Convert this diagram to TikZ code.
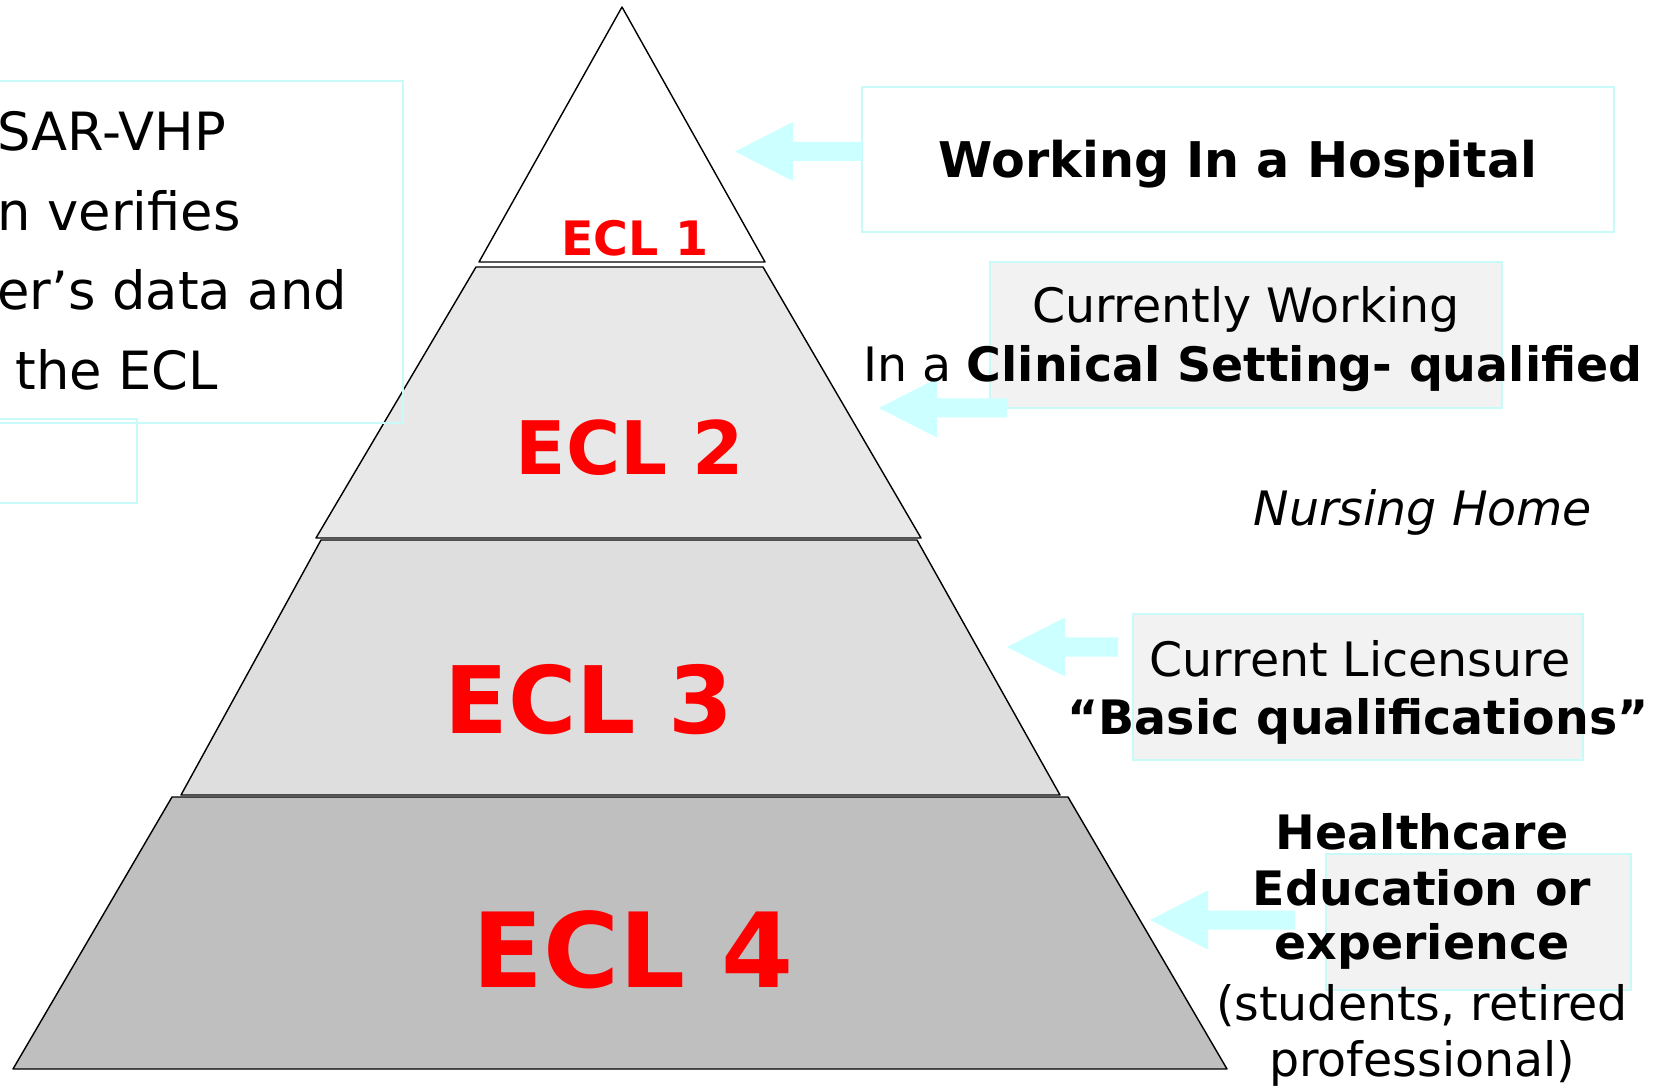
\documentclass[tikz,border=0pt]{standalone}
\usepackage{fontspec}
\setmainfont{DejaVu Sans}
\definecolor{eclred}{HTML}{FF0000}
\definecolor{boxcyan}{HTML}{C8FAFA}
\definecolor{arrowcyan}{HTML}{CCFFFF}
\definecolor{boxgray}{HTML}{F2F2F2}
\begin{document}
\begin{tikzpicture}[x=0.02cm, y=-0.02cm,
	tier/.style={draw=black, line width=0.8pt, line join=round},
	tierbox/.style={draw=boxcyan, line width=1.2pt},
	lbl/.style={inner sep=0pt, anchor=base, font=\fontsize{27}{32}\selectfont},
	side/.style={inner sep=0pt, anchor=base west, font=\fontsize{30}{45}\selectfont},
	ecl/.style={inner sep=0pt, anchor=base, text=eclred}]
	\clip (0,0) rectangle (1657,1087);
	\fill[white] (0,0) rectangle (1657,1087);
	\filldraw[tier, fill=white] (622,7) -- (765,262) -- (479,262) -- cycle;
	\filldraw[tier, fill=black!9] (476,267) -- (763,267) -- (921,538) -- (316,538) -- cycle;
	\filldraw[tier, fill=black!13] (321,540) -- (917,540) -- (1060,795) -- (181,795) -- cycle;
	\filldraw[tier, fill=black!25] (172,797) -- (1068,797) -- (1227,1069) -- (13,1069) -- cycle;
	\node[ecl, font=\bfseries\fontsize{27}{32}\selectfont] (ecl1) at (635,256) {ECL 1};
	\node[ecl, font=\bfseries\fontsize{42}{50}\selectfont] (ecl2) at (630,475) {ECL 2};
	\node[ecl, font=\bfseries\fontsize{53}{64}\selectfont] (ecl3) at (589,733) {ECL 3};
	\node[ecl, font=\bfseries\fontsize{59}{70}\selectfont] (ecl4) at (633,987) {ECL 4};
	\draw[tierbox] (-5,81) rectangle (403,423);
	\draw[tierbox] (-5,419) rectangle (137,503);
	\node[side] (info1) at (-3,151) {SAR-VHP};
	\node[side] (info2) at (-3,231) {n verifies};
	\node[side] (info3) at (-3,310) {er’s data and};
	\node[side] (info4) at (15,390) {the ECL};
	\draw[tierbox] (862,87) rectangle (1614,232);
	\filldraw[tierbox, fill=boxgray] (990,262) rectangle (1502,408);
	\filldraw[tierbox, fill=boxgray] (1133,614) rectangle (1583,760);
	\filldraw[tierbox, fill=boxgray] (1326,854) rectangle (1631,990);
	\foreach \tx/\ty/\ex in {735/151.5/862, 879/408/1007, 1007/647/1118, 1150/920/1295}
		\fill[arrowcyan] (\tx,\ty) -- (\tx+58,\ty-29.5) -- (\tx+58,\ty-9.5) -- (\ex,\ty-9.5)
			-- (\ex,\ty+9.5) -- (\tx+58,\ty+9.5) -- (\tx+58,\ty+29.5) -- cycle;
	\node[lbl, font=\bfseries\fontsize{28}{34}\selectfont] (hosp) at (1238,178) {Working In a Hospital};
	\node[lbl] (clin1) at (1246,323) {Currently Working};
	\node[lbl] (clin2) at (1253,382) {In a \textbf{Clinical Setting- qualified}};
	\node[lbl, font=\itshape\fontsize{27}{32}\selectfont] (nurse) at (1423,526) {Nursing Home};
	\node[lbl] (lic1) at (1360,676) {Current Licensure};
	\node[lbl, font=\bfseries\fontsize{27}{32}\selectfont] (lic2) at (1358,734) {“Basic qualifications”};
	\node[lbl, font=\bfseries\fontsize{27}{32}\selectfont] (edu1) at (1422,849) {Healthcare};
	\node[lbl, font=\bfseries\fontsize{27}{32}\selectfont] (edu2) at (1422,905) {Education or};
	\node[lbl, font=\bfseries\fontsize{27}{32}\selectfont] (edu3) at (1422,959) {experience};
	\node[lbl] (edu4) at (1422,1020) {(students, retired};
	\node[lbl] (edu5) at (1422,1076) {professional)};
\end{tikzpicture}
\end{document}
